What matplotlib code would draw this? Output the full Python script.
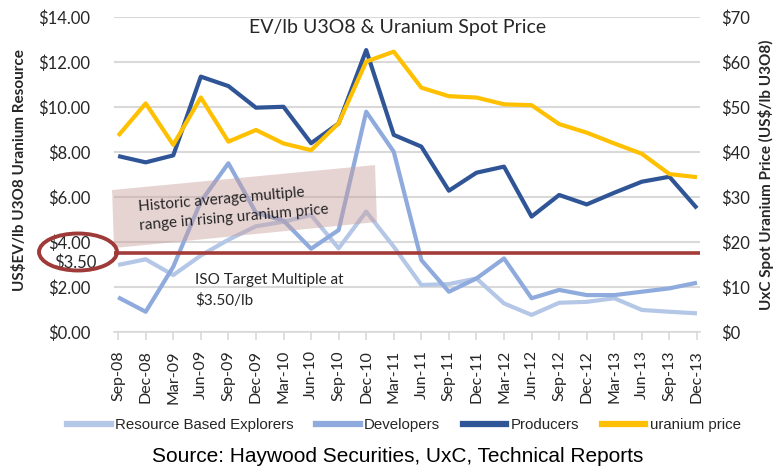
import numpy as np
import matplotlib.pyplot as plt
from matplotlib.patches import Polygon, Ellipse
from matplotlib.lines import Line2D

# quarterly data, Sep-08 .. Dec-13
dates = ['Sep-08', 'Dec-08', 'Mar-09', 'Jun-09', 'Sep-09', 'Dec-09', 'Mar-10', 'Jun-10',
         'Sep-10', 'Dec-10', 'Mar-11', 'Jun-11', 'Sep-11', 'Dec-11', 'Mar-12', 'Jun-12',
         'Sep-12', 'Dec-12', 'Mar-13', 'Jun-13', 'Sep-13', 'Dec-13']
explorers = [2.98, 3.23, 2.53, 3.4, 4.1, 4.7, 4.9, 5.2, 3.72, 5.35, 3.79, 2.09,
             2.13, 2.38, 1.27, 0.76, 1.30, 1.34, 1.50, 0.98, 0.90, 0.83]
developers = [1.54, 0.90, 2.9, 5.8, 7.50, 5.3, 4.95, 3.7, 4.53, 9.79, 8.01, 3.2,
              1.79, 2.38, 3.27, 1.50, 1.87, 1.64, 1.64, 1.79, 1.94, 2.19]
producers = [7.82, 7.54, 7.85, 11.35, 10.93, 9.97, 10.01, 8.39, 9.27, 12.53, 8.76, 8.24,
             6.28, 7.08, 7.35, 5.13, 6.09, 5.67, 6.19, 6.68, 6.90, 5.50]
uranium_price = [43.6, 50.8, 41.6, 52.1, 42.3, 44.9, 41.9, 40.4, 46.4, 60.1, 62.3, 54.3,
                 52.4, 52.1, 50.6, 50.4, 46.2, 44.3, 41.9, 39.6, 35.1, 34.4]
left_ticks = [0, 2, 4, 6, 8, 10, 12, 14]
right_ticks = [0, 10, 20, 30, 40, 50, 60, 70]
target = 3.5

FONT = ['Lato', 'DejaVu Sans']
plt.rcParams['font.family'] = FONT
TXT = '#262626'
GRID = '#D9D9D9'

W, H = 775, 470
fig = plt.figure(figsize=(W / 100, H / 100), dpi=100)
ax = fig.add_axes([114 / W, 1 - 332 / H, (700 - 114) / W, (332 - 17) / H])
ax2 = ax.twinx()

x = np.arange(len(dates))
ax.plot(x, explorers, color='#B4C7E7', lw=3, zorder=2, solid_capstyle='butt')
ax.plot(x, developers, color='#8FAADC', lw=3, zorder=2, solid_capstyle='butt')
ax.plot(x, producers, color='#2F5597', lw=3, zorder=3, solid_capstyle='butt')
ax2.plot(x, uranium_price, color='#FFC000', lw=3, solid_capstyle='butt')

ax.set_xlim(-0.15, len(dates) - 1 + 0.11)
ax.set_ylim(0, 14)
ax2.set_ylim(0, 70)
ax.set_yticks(left_ticks)
ax.set_yticklabels(['${:.2f}'.format(v) for v in left_ticks])
ax2.set_yticks(right_ticks)
ax2.set_yticklabels(['${}'.format(v) for v in right_ticks])
ax.set_xticks(x)
ax.set_xticklabels(dates, rotation=90)

ax.grid(axis='y', color=GRID, lw=1.5)
ax.set_axisbelow(True)
for a in (ax, ax2):
    for s in a.spines.values():
        s.set_visible(False)
ax.spines['bottom'].set_visible(True)
ax.spines['bottom'].set_color(GRID)
ax.spines['bottom'].set_linewidth(1.2)
ax.tick_params(axis='x', length=6, color=GRID, width=1.2, labelsize=11.5,
               labelcolor=TXT, pad=7)
ax.tick_params(axis='y', length=0, labelsize=12, labelcolor=TXT, pad=17)
ax2.tick_params(axis='y', length=0, labelsize=12, labelcolor=TXT, pad=15)

# target multiple line
ax.axhline(target, color='#A33B39', lw=2.6, zorder=4)

# historic range box (annotation)
box = Polygon([(-0.22, 6.31), (9.32, 7.42), (9.39, 4.89), (-0.15, 3.73)],
              closed=True, facecolor='#C9A09E', alpha=0.45, edgecolor='none',
              zorder=5, clip_on=False)
ax.add_patch(box)
ax.text(0.75, 5.15, 'Historic average multiple\nrange in rising uranium price',
        rotation=5, rotation_mode='anchor', ha='left', va='center',
        fontsize=11, color=TXT, linespacing=1.45, zorder=6)

ax.text(2.8, 1.84, 'ISO Target Multiple at\n$3.50/lb', ha='left', va='center',
        fontsize=11, color=TXT, linespacing=1.5, zorder=6)

ax.text(-0.029, 3.1, '$3.50', transform=ax.get_yaxis_transform(), ha='right',
        va='center', fontsize=12, color=TXT)

ell = Ellipse((78 / W, 1 - 252 / H), 78 / W, 37 / H, transform=fig.transFigure,
              fill=False, edgecolor='#9E3A38', lw=2.8)
fig.add_artist(ell)

fig.text(398 / W, 1 - 27 / H, 'EV/lb U3O8 & Uranium Spot Price', ha='center',
         va='center', fontsize=14, color=TXT)
fig.text(20 / W, 1 - 170 / H, 'US$EV/lb U3O8 Uranium Resource', rotation=90,
         ha='center', va='center', fontsize=11, fontweight='bold', color=TXT)
fig.text(766 / W, 1 - 175 / H, 'UxC Spot Uranium Price (US$/lb U3O8)', rotation=90,
         ha='center', va='center', fontsize=11, fontweight='bold', color=TXT)

handles = [Line2D([], [], color=c, lw=4.5) for c in ['#B4C7E7', '#8FAADC', '#2F5597', '#FFC000']]
labels = ['Resource Based Explorers', 'Developers', 'Producers', 'uranium price']
fig.legend(handles, labels, loc='center', bbox_to_anchor=(404 / W, 1 - 425 / H), ncol=4,
           frameon=False, handlelength=2.9, handletextpad=0.3, columnspacing=1.5,
           prop={'family': ['Liberation Sans Narrow', 'Liberation Sans'], 'size': 10.8},
           labelcolor=TXT)

fig.text(398 / W, 1 - 456 / H, 'Source: Haywood Securities, UxC, Technical Reports',
         ha='center', va='center', fontsize=15, color='black', family='Liberation Sans')

fig.savefig('out.png', dpi=100)
